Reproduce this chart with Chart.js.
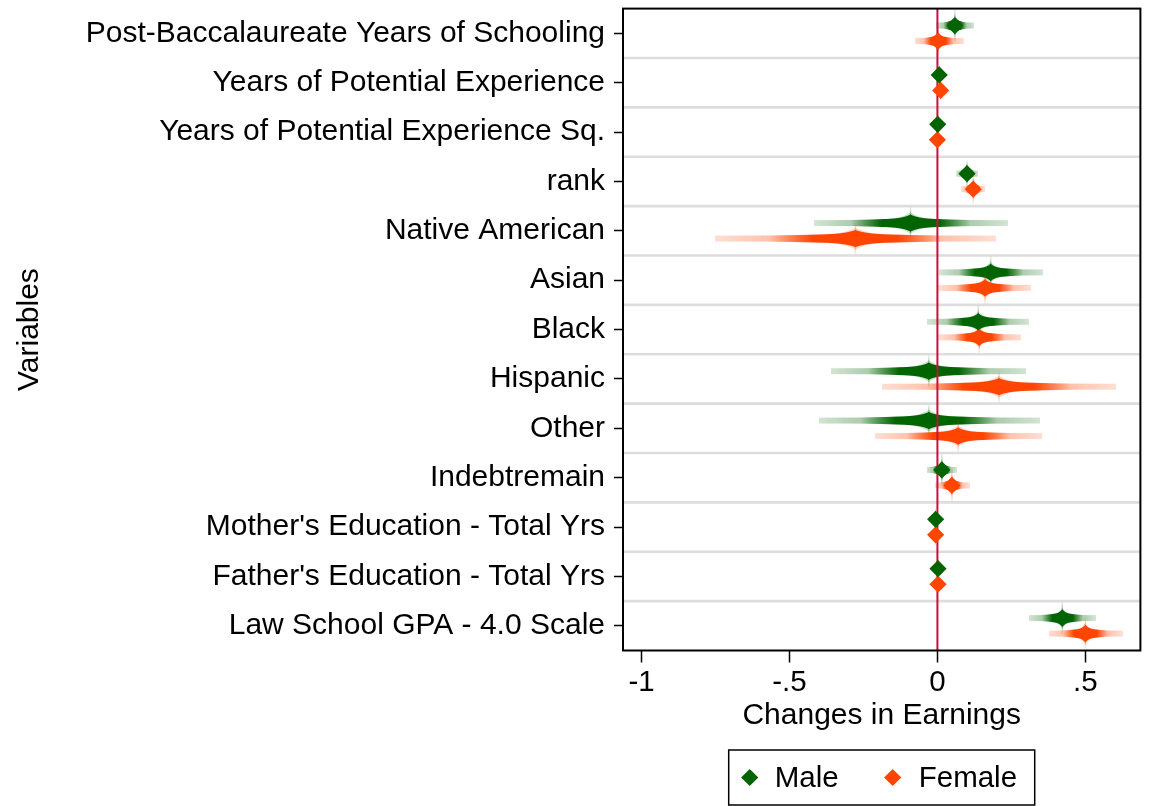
<!DOCTYPE html>
<html>
<head>
<meta charset="utf-8">
<script src="https://cdn.jsdelivr.net/npm/chart.js@4.4.1/dist/chart.umd.min.js"></script>
<style>
html,body{margin:0;padding:0;background:#fff;}
#wrap{width:1149px;height:806px;position:relative;}
</style>
</head>
<body>
<div id="wrap"><canvas id="c" width="1149" height="806"></canvas></div>
<script>
// ---- data ----
const categories = [
  "Post-Baccalaureate Years of Schooling",
  "Years of Potential Experience",
  "Years of Potential Experience Sq.",
  "rank",
  "Native American",
  "Asian",
  "Black",
  "Hispanic",
  "Other",
  "Indebtremain",
  "Mother's Education - Total Yrs",
  "Father's Education - Total Yrs",
  "Law School GPA - 4.0 Scale"
];
const maleCoef   = [0.059, 0.006, 0.001, 0.100, -0.091, 0.180, 0.138, -0.029, -0.029, 0.015, -0.006, 0.002, 0.422];
const maleLo     = [-0.003, 0.000, -0.001, 0.065, -0.415, 0.008, -0.033, -0.359, -0.400, -0.035, -0.010, -0.002, 0.311];
const maleHi     = [0.123, 0.012, 0.003, 0.136, 0.236, 0.356, 0.308, 0.299, 0.344, 0.064, -0.002, 0.006, 0.534];
const femaleCoef = [0.002, 0.011, 0.000, 0.121, -0.277, 0.161, 0.141, 0.208, 0.070, 0.049, -0.006, 0.002, 0.500];
const femaleLo   = [-0.075, 0.004, -0.002, 0.081, -0.750, 0.005, 0.005, -0.184, -0.210, -0.007, -0.011, -0.003, 0.378];
const femaleHi   = [0.087, 0.018, 0.002, 0.160, 0.195, 0.316, 0.282, 0.603, 0.352, 0.107, -0.001, 0.007, 0.624];
const xTicks      = [-1, -0.5, 0, 0.5];
const xTickLabels = ["-1", "-.5", "0", ".5"];
const seriesNames = ["Male", "Female"];

// ---- styles ----
const FONT = "'Liberation Sans', Arial, Helvetica, sans-serif";
const GREEN = '#006400', ORANGE = '#ff4500';
const GREEN_RGB = '0,100,0', ORANGE_RGB = '255,69,0';
const OFFSET = 0.157;
const MARKER_R = 8.6;

function alphaFn(u) {
  if (u < 0.3) return 1;
  if (u < 0.62) return 1 - (u - 0.3) / 0.32 * 0.72;
  return Math.max(0.14, 0.28 - (u - 0.62) / 0.38 * 0.13);
}

function drawCI(ctx, xs, py, c, lo, hi, rgb) {
  const pc = xs.getPixelForValue(c), pl = xs.getPixelForValue(lo), ph = xs.getPixelForValue(hi);
  const wl = Math.max(pc - pl, 0.5), wr = Math.max(ph - pc, 0.5);
  const x0 = Math.floor(pl), x1 = Math.ceil(ph);
  for (let px = x0; px < x1; px++) {
    const cx = px + 0.5;
    const d = Math.abs(cx - pc);
    const w = cx < pc ? wl : wr;
    const u = Math.min(d / w, 1);
    const a = alphaFn(u);
    const bulge = Math.exp(-d / (0.09 * w + 1));
    const hSoft = 3.4 + 7.5 * bulge;
    const hCore = 2.7 + 1.0 * a + 4.8 * bulge;
    ctx.fillStyle = `rgba(${rgb},${(a * 0.22).toFixed(3)})`;
    ctx.fillRect(px, py - hSoft, 1, 2 * hSoft);
    ctx.fillStyle = `rgba(${rgb},${a.toFixed(3)})`;
    ctx.fillRect(px, py - hCore, 1, 2 * hCore);
  }
  const hs = Math.min(16, 3 + (ph - pl) * 0.5);
  const g = ctx.createLinearGradient(0, py - hs, 0, py + hs);
  g.addColorStop(0, `rgba(${rgb},0.08)`);
  g.addColorStop(0.5, `rgba(${rgb},0.6)`);
  g.addColorStop(1, `rgba(${rgb},0.08)`);
  ctx.fillStyle = g;
  ctx.fillRect(pc - 0.75, py - hs, 1.5, 2 * hs);
}

function diamond(ctx, cx, cy, r) {
  ctx.beginPath();
  ctx.moveTo(cx - r, cy); ctx.lineTo(cx, cy - r); ctx.lineTo(cx + r, cy); ctx.lineTo(cx, cy + r);
  ctx.closePath(); ctx.fill();
}

const backPlugin = {
  id: 'back',
  beforeDatasetsDraw(chart) {
    const {ctx, chartArea: a, scales: {x, y}} = chart;
    ctx.save();
    ctx.beginPath();
    ctx.rect(a.left, a.top, a.right - a.left, a.bottom - a.top);
    ctx.clip();
    ctx.strokeStyle = '#dddddd';
    ctx.lineWidth = 2.6;
    for (let i = 0; i < categories.length - 1; i++) {
      const py = y.getPixelForValue(i + 0.5);
      ctx.beginPath(); ctx.moveTo(a.left, py); ctx.lineTo(a.right, py); ctx.stroke();
    }
    for (let i = 0; i < categories.length; i++) {
      drawCI(ctx, x, y.getPixelForValue(i - OFFSET), maleCoef[i], maleLo[i], maleHi[i], GREEN_RGB);
      drawCI(ctx, x, y.getPixelForValue(i + OFFSET), femaleCoef[i], femaleLo[i], femaleHi[i], ORANGE_RGB);
    }
    const zx = x.getPixelForValue(0);
    ctx.strokeStyle = '#c8103c';
    ctx.lineWidth = 2;
    ctx.beginPath(); ctx.moveTo(zx, a.top); ctx.lineTo(zx, a.bottom); ctx.stroke();
    ctx.restore();
  },
  afterDraw(chart) {
    const {ctx, chartArea: a} = chart;
    ctx.save();
    ctx.strokeStyle = '#000';
    ctx.lineWidth = 2;
    ctx.strokeRect(a.left, a.top, a.right - a.left, a.bottom - a.top);
    // legend box, centred under the plot area
    const bw = 306, bh = 55;
    const bx = (a.left + a.right) / 2 - bw / 2, by = 750;
    ctx.lineWidth = 1.5;
    ctx.strokeRect(bx, by, bw, bh);
    const cy = by + bh / 2;
    const ds = chart.data.datasets;
    const items = [
      {cx: bx + 21, tx: bx + 46, color: ds[0].backgroundColor, label: ds[0].label},
      {cx: bx + 164, tx: bx + 190, color: ds[1].backgroundColor, label: ds[1].label}
    ];
    ctx.font = `29.5px ${FONT}`;
    ctx.textBaseline = 'middle';
    ctx.textAlign = 'left';
    for (const it of items) {
      ctx.fillStyle = it.color;
      diamond(ctx, it.cx, cy, MARKER_R);
      ctx.fillStyle = '#000';
      ctx.fillText(it.label, it.tx, cy + 1);
    }
    ctx.restore();
  }
};

new Chart(document.getElementById('c'), {
  type: 'scatter',
  data: {
    datasets: [
      {
        label: seriesNames[0],
        data: maleCoef.map((v, i) => ({x: v, y: i - OFFSET})),
        pointStyle: 'rectRot', pointRadius: MARKER_R, pointHoverRadius: MARKER_R,
        backgroundColor: GREEN, borderColor: GREEN, borderWidth: 0
      },
      {
        label: seriesNames[1],
        data: femaleCoef.map((v, i) => ({x: v, y: i + OFFSET})),
        pointStyle: 'rectRot', pointRadius: MARKER_R, pointHoverRadius: MARKER_R,
        backgroundColor: ORANGE, borderColor: ORANGE, borderWidth: 0
      }
    ]
  },
  options: {
    responsive: false,
    animation: false,
    events: [],
    layout: {padding: {top: 5, right: 3.5, left: 0, bottom: 0}},
    plugins: {legend: {display: false}, tooltip: {enabled: false}},
    scales: {
      x: {
        type: 'linear', min: -1.0626, max: 0.686, bounds: 'data',
        afterBuildTicks: s => { s.ticks = xTicks.map(v => ({value: v})); },
        afterFit: s => { s.height = 155.5; s.paddingLeft = 0; s.paddingRight = 0; },
        ticks: {
          callback: (v, i) => xTickLabels[i],
          font: {family: FONT, size: 29.5}, color: '#000', padding: 3,
          maxRotation: 0, autoSkip: false
        },
        grid: {drawOnChartArea: false, drawTicks: true, tickLength: 12, tickColor: '#000', tickWidth: 1.5},
        border: {display: false},
        title: {display: true, text: 'Changes in Earnings', color: '#000',
                font: {family: FONT, size: 30}, padding: {top: 0, bottom: 72}}
      },
      y: {
        type: 'linear', min: -0.5, max: categories.length - 0.5, reverse: true, bounds: 'data',
        afterBuildTicks: s => { s.ticks = categories.map((_, i) => ({value: i})); },
        afterFit: s => { s.width = 623; s.paddingTop = 0; s.paddingBottom = 0; },
        ticks: {
          callback: (v, i) => categories[i],
          font: {family: FONT, size: 30}, color: '#000', padding: 9, autoSkip: false
        },
        grid: {drawOnChartArea: false, drawTicks: true, tickLength: 9, tickColor: '#000', tickWidth: 1.5},
        border: {display: false},
        title: {display: true, text: 'Variables', color: '#000',
                font: {family: FONT, size: 30}, padding: {top: 12, bottom: 0}}
      }
    }
  },
  plugins: [backPlugin]
});
</script>
</body>
</html>
